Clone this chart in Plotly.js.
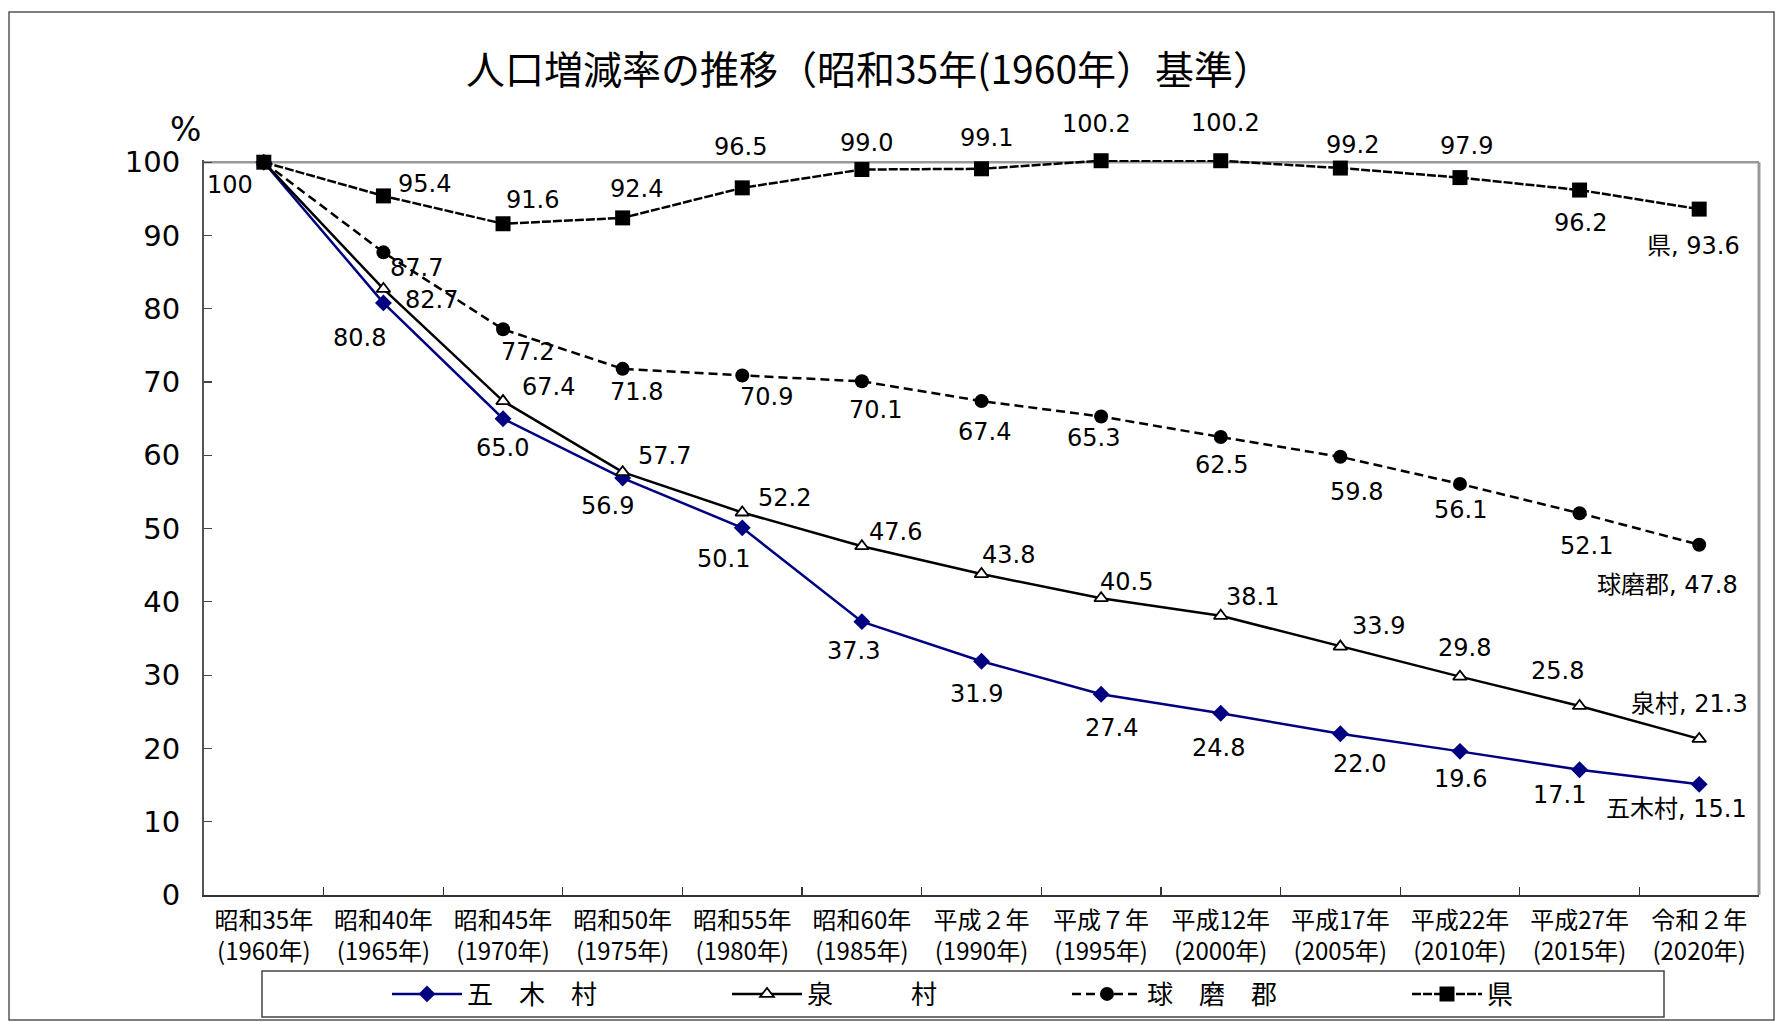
<!DOCTYPE html>
<html><head><meta charset="utf-8">
<script src="https://cdn.plot.ly/plotly-3.0.1.min.js"></script>
<style>html,body{margin:0;padding:0;background:#fff;} #chart{width:1776px;height:1022px;}</style>
</head><body><div id="chart"></div>
<script>
// ---- data ----
const categories = [
  '昭和35年<br>(1960年)', '昭和40年<br>(1965年)', '昭和45年<br>(1970年)', '昭和50年<br>(1975年)',
  '昭和55年<br>(1980年)', '昭和60年<br>(1985年)', '平成２年<br>(1990年)', '平成７年<br>(1995年)',
  '平成12年<br>(2000年)', '平成17年<br>(2005年)', '平成22年<br>(2010年)', '平成27年<br>(2015年)',
  '令和２年<br>(2020年)'
];
const itsukiVillage = [100, 80.8, 65.0, 56.9, 50.1, 37.3, 31.9, 27.4, 24.8, 22.0, 19.6, 17.1, 15.1];
const izumiVillage  = [100, 82.7, 67.4, 57.7, 52.2, 47.6, 43.8, 40.5, 38.1, 33.9, 29.8, 25.8, 21.3];
const kumaDistrict  = [100, 87.7, 77.2, 71.8, 70.9, 70.1, 67.4, 65.3, 62.5, 59.8, 56.1, 52.1, 47.8];
const prefecture    = [100, 95.4, 91.6, 92.4, 96.5, 99.0, 99.1, 100.2, 100.2, 99.2, 97.9, 96.2, 93.6];
const seriesNames = ['五木村', '泉村', '球磨郡', '県'];
const legendNames = ['五　木　村', '泉　　　村', '球　磨　郡', '県'];
const yTickValues = [0, 10, 20, 30, 40, 50, 60, 70, 80, 90, 100];
const titleText = '人口増減率の推移（昭和35年(1960年）基準）';
const unitText = '%';

// ---- layout geometry / styles ----
const W = 1776, H = 1022;
const yMax = 100.3;                 // tiny headroom so 100.2 points stay inside the axis range
const M = {l: 204, r: 17, t: 160, b: 127};
const pw = W - M.l - M.r, ph = H - M.t - M.b;
const px2x = px => (px - M.l) / pw;
const py2y = py => (H - M.b - py) / ph;
const y100 = 100 / yMax;            // paper y of the 100 line

// label offsets in px [dx, dy(down)] ; null = no label
const labelOffsets = [
  [null, [-24,35], [-1,29], [-15,28], [-19,31], [-8,29], [-5,33], [10,34], [-2,35], [19,30], [1,28], [-20,25], [-23,25]],
  [null, [48,11], [45,-14], [42,-16], [42,-14], [34,-14], [27,-19], [25,-16], [32,-19], [38,-21], [5,-29], [-22,-35], [-10,-35]],
  [null, [33,16], [24,23], [14,23], [24,22], [14,29], [3,31], [-8,22], [1,28], [16,35], [1,26], [7,33], [-32,40]],
  [[-34,23], [41,-12], [29,-24], [14,-29], [-2,-41], [5,-27], [5,-31], [-5,-37], [5,-38], [12,-23], [7,-32], [1,33], [-6,37]]
];

const allSeries = [itsukiVillage, izumiVillage, kumaDistrict, prefecture];
const styles = [
  {line: {color: '#000080', width: 2.5}, marker: {symbol: 'diamond', size: 13, color: '#000080'}},
  {line: {color: '#000000', width: 2.5}, marker: {symbol: 'triangle-up', size: 12, color: '#ffffff', line: {color: '#000000', width: 1.8}}},
  {line: {color: '#000000', width: 2.5, dash: '9px,5px'}, marker: {symbol: 'circle', size: 14, color: '#000000'}},
  {line: {color: '#000000', width: 2.5, dash: '9px,2px'}, marker: {symbol: 'square', size: 15, color: '#000000'}}
];

const traces = allSeries.map((vals, s) => ({
  type: 'scatter', mode: 'lines+markers',
  x: categories, y: vals, name: legendNames[s],
  line: styles[s].line, marker: styles[s].marker,
  cliponaxis: false, hoverinfo: 'skip'
}));

const labelFont = {family: 'DejaVu Sans, Noto Sans CJK JP, sans-serif', size: 24, color: '#000'};
const annotations = [];
allSeries.forEach((vals, s) => {
  vals.forEach((v, i) => {
    const off = labelOffsets[s][i];
    if (!off) return;
    let t = (i === 0) ? String(v) : v.toFixed(1);
    if (i === vals.length - 1) t = seriesNames[s] + ', ' + t;
    annotations.push({
      x: i, y: v, xref: 'x', yref: 'y', text: t, showarrow: false,
      xshift: off[0], yshift: -off[1], font: labelFont,
      xanchor: 'center', yanchor: 'middle'
    });
  });
});
annotations.push({
  x: px2x(185), y: py2y(129), xref: 'paper', yref: 'paper', text: unitText, showarrow: false,
  font: {family: 'DejaVu Sans, sans-serif', size: 33, color: '#000'}, xanchor: 'center', yanchor: 'middle'
});

const shapes = [
  // outer frame
  {type: 'rect', xref: 'paper', yref: 'paper', x0: px2x(9), x1: px2x(1774), y0: py2y(1020), y1: py2y(12),
   line: {color: '#555', width: 1.5}, fillcolor: 'rgba(0,0,0,0)', layer: 'below'},
  // plot top and right border (gray)
  {type: 'line', xref: 'paper', yref: 'paper', x0: 0, x1: 1, y0: y100, y1: y100, line: {color: '#999', width: 2.5}, layer: 'below'},
  {type: 'line', xref: 'paper', yref: 'paper', x0: 1, x1: 1, y0: 0, y1: y100, line: {color: '#999', width: 3}, layer: 'below'},
  // legend box
  {type: 'rect', xref: 'paper', yref: 'paper', x0: px2x(262), x1: px2x(1664), y0: py2y(1017), y1: py2y(971),
   line: {color: '#444', width: 1.5}, fillcolor: 'rgba(0,0,0,0)', layer: 'below'}
];

const layout = {
  width: W, height: H,
  margin: {l: M.l, r: M.r, t: M.t, b: M.b, pad: 0, autoexpand: false},
  paper_bgcolor: '#fff', plot_bgcolor: '#fff',
  showlegend: true,
  title: {
    text: titleText, xref: 'container', yref: 'container',
    x: 869 / W, y: 1 - 70 / H, xanchor: 'center', yanchor: 'middle',
    font: {family: 'Noto Sans CJK JP, sans-serif', size: 39, color: '#000'}
  },
  xaxis: {
    type: 'category', range: [-0.5, categories.length - 0.5],
    tickson: 'boundaries', ticks: 'inside', ticklen: 8, tickwidth: 1.2, tickcolor: '#333',
    showline: true, linecolor: '#333', linewidth: 2, showgrid: false, zeroline: false,
    tickfont: {family: 'Noto Sans CJK JP, sans-serif', size: 24, color: '#000'},
    ticklabelstandoff: 3, fixedrange: true, tickangle: 0, automargin: false
  },
  yaxis: {
    range: [0, yMax], tickvals: yTickValues, ticktext: yTickValues.map(String),
    ticks: 'inside', ticklen: 8, tickwidth: 1.2, tickcolor: '#444',
    showline: true, linecolor: '#555', linewidth: 2, showgrid: false, zeroline: false,
    tickfont: {family: 'DejaVu Sans, sans-serif', size: 29, color: '#000'},
    ticklabelstandoff: 16, fixedrange: true, automargin: false
  },
  legend: {
    orientation: 'h', x: 387 / W, xanchor: 'left', y: 1 - 994 / H, yanchor: 'middle',
    xref: 'container', yref: 'container',
    bgcolor: 'rgba(0,0,0,0)', borderwidth: 0, itemwidth: 70,
    entrywidth: 255, entrywidthmode: 'pixels', traceorder: 'normal',
    font: {family: 'Noto Sans CJK JP, sans-serif', size: 26, color: '#000'},
    itemclick: false, itemdoubleclick: false
  },
  annotations: annotations,
  shapes: shapes,
  hovermode: false
};

Plotly.newPlot('chart', traces, layout, {displayModeBar: false, staticPlot: true});
</script>
</body></html>
